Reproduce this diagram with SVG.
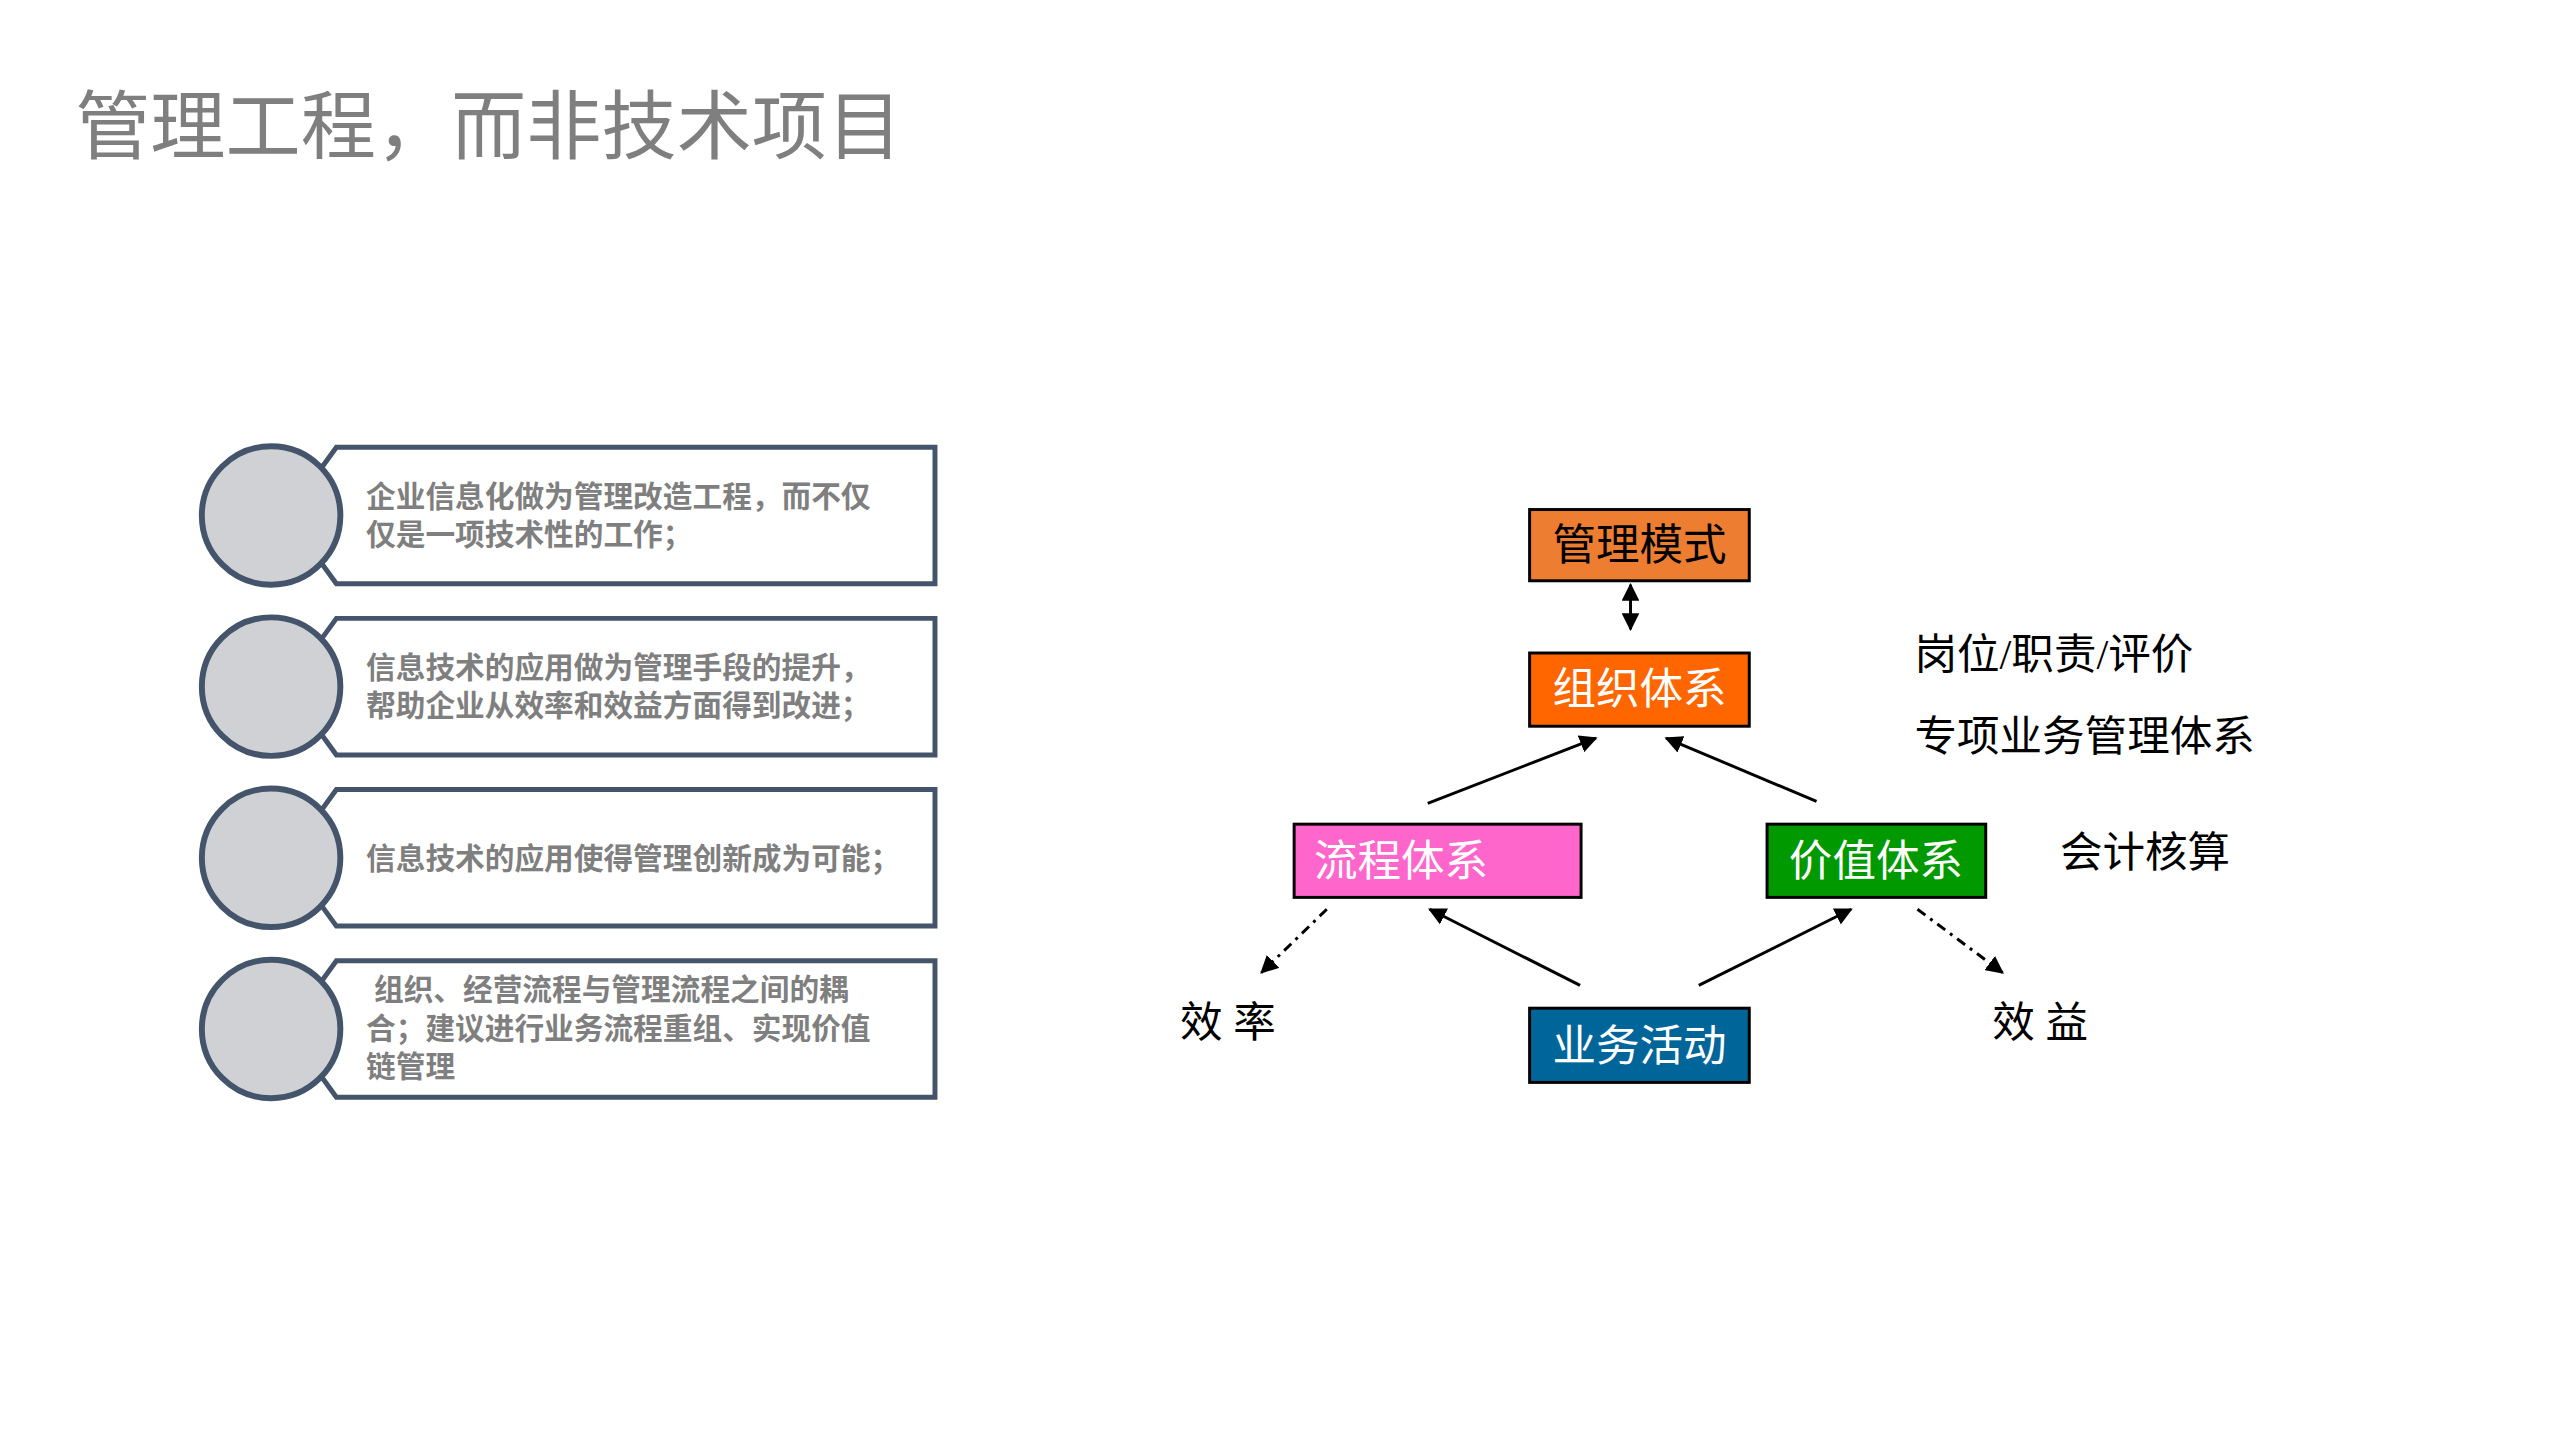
<svg xmlns="http://www.w3.org/2000/svg" width="2560" height="1440" viewBox="0 0 2560 1440">
<defs>
<style>
.item polygon{fill:#fff;stroke:#44546a;stroke-width:5}
.item circle{fill:#d0d1d5;stroke:#44546a;stroke-width:6}
.item text{font-family:"Noto Sans CJK SC",sans-serif;font-weight:bold;font-size:30px;fill:#7f7f7f}
.box rect{stroke:#000;stroke-width:3}
.box text{font-family:"Noto Sans CJK SC",sans-serif;font-size:44px}
.lbl{font-family:"Liberation Serif","Noto Sans CJK SC",serif;font-size:43px;fill:#000}
.c line{stroke:#000;stroke-width:3}
</style>
<marker id="ah" viewBox="0 0 10 10" refX="9" refY="5" markerWidth="6" markerHeight="6" orient="auto-start-reverse"><path d="M0,0L10,5L0,10z" fill="#000"/></marker>
</defs>
<rect width="2560" height="1440" fill="#fff"/>
<g transform="scale(0.9894)">
<text x="76" y="155" font-family="Noto Sans CJK SC,sans-serif" font-size="76" fill="#7f7f7f">管理工程，而非技术项目</text>

<g id="item1" class="item"><polygon points="340,452 945,452 945,590 340,590 290,521"/><circle cx="274" cy="521" r="70"/>
<text x="370" y="512">企业信息化做为管理改造工程，而不仅</text><text x="370" y="551">仅是一项技术性的工作；</text></g>
<g id="item2" class="item" transform="translate(0,173)"><polygon points="340,452 945,452 945,590 340,590 290,521"/><circle cx="274" cy="521" r="70"/>
<text x="370" y="512">信息技术的应用做为管理手段的提升，</text><text x="370" y="551">帮助企业从效率和效益方面得到改进；</text></g>
<g id="item3" class="item" transform="translate(0,346)"><polygon points="340,452 945,452 945,590 340,590 290,521"/><circle cx="274" cy="521" r="70"/>
<text x="370" y="532">信息技术的应用使得管理创新成为可能；</text></g>
<g id="item4" class="item" transform="translate(0,519)"><polygon points="340,452 945,452 945,590 340,590 290,521"/><circle cx="274" cy="521" r="70"/>
<text x="378" y="492">组织、经营流程与管理流程之间的耦</text><text x="370" y="531">合；建议进行业务流程重组、实现价值</text><text x="370" y="570">链管理</text></g>

<g id="n1" class="box"><rect x="1546" y="515" width="222" height="72" fill="#ed7d31"/><text x="1657" y="566" text-anchor="middle" fill="#000">管理模式</text></g>
<g id="n2" class="box"><rect x="1546" y="660" width="222" height="74" fill="#ff6600"/><text x="1657" y="712" text-anchor="middle" fill="#fff">组织体系</text></g>
<g id="n3" class="box"><rect x="1308" y="833" width="290" height="74" fill="#ff66cc"/><text x="1328" y="885" fill="#fff">流程体系</text></g>
<g id="n4" class="box"><rect x="1786" y="833" width="221" height="74" fill="#009900"/><text x="1896" y="885" text-anchor="middle" fill="#fff">价值体系</text></g>
<g id="n5" class="box"><rect x="1546" y="1019" width="222" height="75" fill="#006699"/><text x="1657" y="1072" text-anchor="middle" fill="#fff">业务活动</text></g>

<text class="lbl" x="1241" y="1048" text-anchor="middle">效 率</text>
<text class="lbl" x="2062" y="1048" text-anchor="middle">效 益</text>
<text class="lbl" x="1935" y="676">岗位/职责/评价</text>
<text class="lbl" x="1935" y="759">专项业务管理体系</text>
<text class="lbl" x="2082" y="876">会计核算</text>

<g id="connectors" class="c">
<line x1="1648" y1="591" x2="1648" y2="636" marker-start="url(#ah)" marker-end="url(#ah)"/>
<line x1="1443" y1="812" x2="1613" y2="746" marker-end="url(#ah)"/>
<line x1="1836" y1="810" x2="1684" y2="746" marker-end="url(#ah)"/>
<line x1="1597" y1="996" x2="1445" y2="919" marker-end="url(#ah)"/>
<line x1="1717" y1="996" x2="1871" y2="919" marker-end="url(#ah)"/>
<line x1="1341" y1="919" x2="1275" y2="983" stroke-dasharray="10,6,3,6" marker-end="url(#ah)"/>
<line x1="1938" y1="919" x2="2024" y2="983" stroke-dasharray="10,6,3,6" marker-end="url(#ah)"/>
</g>
</g>
</svg>
